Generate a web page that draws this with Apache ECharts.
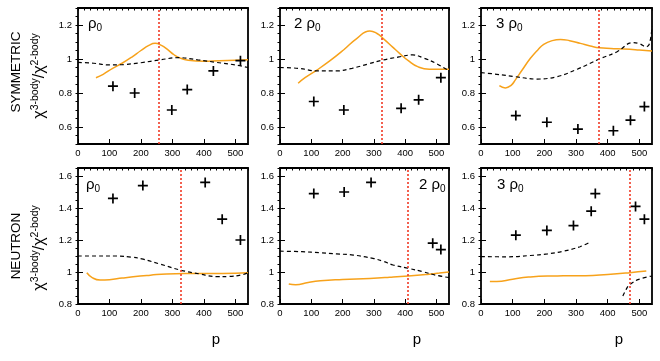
<!DOCTYPE html>
<html>
<head>
<meta charset="utf-8">
<script src="https://cdn.jsdelivr.net/npm/echarts@6.0.0/dist/echarts.min.js"></script>
<style>
  html, body { margin: 0; padding: 0; background: #fff; }
  #chart { width: 660px; height: 361px; }
</style>
</head>
<body>
<div id="chart"></div>
<script>
// tick labels
var pTicks = [0, 100, 200, 300, 400, 500];
var symTicks = [0.6, 0.8, 1, 1.2];
var neuTicks = [0.8, 1, 1.2, 1.4, 1.6];

// panel titles and cut-off momenta (red dotted lines)
var panelTitles = ['ρ0', '2 ρ0', '3 ρ0', 'ρ0', '2 ρ0', '3 ρ0'];
var cutLines = [258, 325, 373, 326, 409, 469];

// SYMMETRIC, rho0
var symRho1Orange = [[57,0.89],[80,0.91],[110,0.945],[140,0.975],[170,1.01],[200,1.05],[225,1.08],[245,1.092],[265,1.08],[285,1.055],[305,1.025],[325,1.005],[350,0.993],[400,0.987],[450,0.99],[500,0.992],[540,0.995]];
var symRho1Dashed = [[0,0.98],[50,0.975],[100,0.965],[150,0.968],[200,0.978],[260,0.995],[320,1.008],[380,0.995],[440,0.98],[500,0.965],[540,0.95]];
var symRho1Cross = [[111,0.84],[180,0.80],[298,0.70],[347,0.82],[430,0.93],[516,0.99]];

// SYMMETRIC, 2 rho0
var symRho2Orange = [[58,0.857],[80,0.89],[118,0.935],[160,0.99],[203,1.053],[245,1.12],[287,1.165],[310,1.15],[330,1.12],[360,1.07],[382,1.033],[410,0.99],[440,0.955],[477,0.94],[540,0.94]];
var symRho2Dashed = [[0,0.95],[60,0.945],[118,0.93],[182,0.93],[230,0.945],[280,0.97],[326,0.993],[380,1.012],[424,1.024],[460,1.005],[498,0.975],[540,0.93]];
var symRho2Cross = [[108,0.75],[204,0.70],[387,0.71],[443,0.76],[514,0.89]];

// SYMMETRIC, 3 rho0
var symRho3Orange = [[58,0.843],[77,0.83],[95,0.845],[108,0.876],[130,0.935],[156,1.004],[180,1.055],[198,1.086],[225,1.108],[251,1.115],[280,1.108],[314,1.092],[345,1.077],[374,1.066],[410,1.062],[451,1.059],[500,1.053],[540,1.047]];
var symRho3Dashed = [[0,0.92],[50,0.91],[108,0.896],[177,0.882],[240,0.896],[304,0.94],[374,1.0],[430,1.043],[478,1.096],[500,1.09],[522,1.072],[532,1.09],[540,1.19]];
var symRho3Cross = [[110,0.667],[208,0.628],[306,0.588],[418,0.578],[472,0.64],[516,0.72]];

// NEUTRON, rho0
var neuRho1Orange = [[28,0.995],[45,0.965],[70,0.95],[100,0.952],[140,0.962],[175,0.97],[230,0.98],[281,0.988],[340,0.99],[400,0.99],[460,0.99],[540,0.995]];
var neuRho1Dashed = [[0,1.1],[60,1.1],[122,1.1],[170,1.093],[207,1.08],[260,1.05],[325,1.012],[386,0.988],[439,0.971],[480,0.972],[520,0.982],[540,0.995]];
var neuRho1Cross = [[111,1.46],[206,1.54],[404,1.56],[458,1.33],[516,1.20]];

// NEUTRON, 2 rho0
var neuRho2Orange = [[28,0.925],[50,0.92],[90,0.935],[129,0.945],[200,0.953],[287,0.96],[350,0.967],[410,0.975],[470,0.985],[509,0.993],[540,1.0]];
var neuRho2Dashed = [[0,1.13],[70,1.127],[129,1.12],[180,1.113],[234,1.106],[297,1.085],[330,1.067],[361,1.044],[410,1.023],[456,1.002],[498,0.98],[540,0.965]];
var neuRho2Cross = [[108,1.49],[205,1.50],[291,1.56],[488,1.18],[514,1.14]];

// NEUTRON, 3 rho0 (dashed curve has two branches)
var neuRho3Orange = [[28,0.94],[50,0.94],[100,0.955],[150,0.968],[210,0.975],[260,0.976],[330,0.977],[400,0.985],[470,0.996],[522,1.006]];
var neuRho3DashedA = [[0,1.096],[80,1.095],[155,1.103],[210,1.113],[260,1.13],[313,1.158],[347,1.19]];
var neuRho3DashedB = [[448,0.85],[458,0.89],[469,0.92],[498,0.954],[540,0.975]];
var neuRho3Cross = [[110,1.23],[208,1.26],[292,1.29],[348,1.38],[361,1.49],[488,1.41],[516,1.33]];

var orangeSets = [symRho1Orange, symRho2Orange, symRho3Orange, neuRho1Orange, neuRho2Orange, neuRho3Orange];
var dashedSets = [[symRho1Dashed], [symRho2Dashed], [symRho3Dashed], [neuRho1Dashed], [neuRho2Dashed], [neuRho3DashedA, neuRho3DashedB]];
var crossSets = [symRho1Cross, symRho2Cross, symRho3Cross, neuRho1Cross, neuRho2Cross, neuRho3Cross];

var chart = echarts.init(document.getElementById('chart'));

var lefts = [78, 280, 481];
var widths = [170, 169, 171];
var tops = [8, 168];
var FONT = 'Liberation Sans, Arial, sans-serif';
var plusPath = 'path://M-0.85,-5H0.85V-0.85H5V0.85H0.85V5H-0.85V0.85H-5V-0.85H-0.85Z';

var grids = [], xAxes = [], yAxes = [], series = [], graphics = [];

for (var i = 0; i < 6; i++) {
    var col = i % 3, row = Math.floor(i / 3);
    var sym = row === 0;
    grids.push({
        left: lefts[col], top: tops[row], width: widths[col], height: 136,
        show: true, borderColor: '#000', borderWidth: 1.8, backgroundColor: 'transparent'
    });
    // main x axis
    xAxes.push({
        type: 'value', gridIndex: i, min: 0, max: 540,
        axisLine: { show: false }, splitLine: { show: false },
        axisTick: { inside: true, length: 5, customValues: pTicks, lineStyle: { color: '#000', width: 1 } },
        axisLabel: { customValues: pTicks, color: '#000', fontSize: 9.5, margin: 4, fontFamily: FONT }
    });
    // minor x ticks
    xAxes.push({
        type: 'value', gridIndex: i, min: 0, max: 540, interval: 20,
        axisLine: { show: false }, splitLine: { show: false }, axisLabel: { show: false },
        axisTick: { inside: true, length: 2.5, lineStyle: { color: '#000', width: 1 } }
    });
    var yt = sym ? symTicks : neuTicks;
    var ymin = sym ? 0.5 : 0.8, ymax = sym ? 1.3 : 1.65;
    yAxes.push({
        type: 'value', gridIndex: i, min: ymin, max: ymax,
        axisLine: { show: false }, splitLine: { show: false },
        axisTick: { inside: true, length: 5, customValues: yt, lineStyle: { color: '#000', width: 1 } },
        axisLabel: { customValues: yt, color: '#000', fontSize: 9.5, margin: 6, fontFamily: FONT }
    });
    yAxes.push({
        type: 'value', gridIndex: i, min: ymin, max: ymax, interval: 0.05,
        axisLine: { show: false }, splitLine: { show: false }, axisLabel: { show: false },
        axisTick: { inside: true, length: 2.5, lineStyle: { color: '#000', width: 1 } }
    });

    series.push({
        type: 'line', xAxisIndex: 2 * i, yAxisIndex: 2 * i, data: orangeSets[i],
        smooth: 0.5, showSymbol: false, silent: true, z: 3,
        lineStyle: { color: '#f7a21b', width: 1.5 },
        markLine: {
            silent: true, symbol: ['none', 'none'], label: { show: false },
            lineStyle: { color: '#f03a25', width: 1.6, type: [2, 2] },
            data: [{ xAxis: cutLines[i] }]
        }
    });
    dashedSets[i].forEach(function (d) {
        series.push({
            type: 'line', xAxisIndex: 2 * i, yAxisIndex: 2 * i, data: d,
            smooth: 0.4, showSymbol: false, silent: true, z: 3,
            lineStyle: { color: '#000', width: 1.2, type: [4, 3] }
        });
    });
    series.push({
        type: 'scatter', xAxisIndex: 2 * i, yAxisIndex: 2 * i, data: crossSets[i],
        symbol: plusPath, symbolSize: 10, silent: true, z: 4,
        itemStyle: { color: '#000', opacity: 1 }
    });
}

// panel titles
var titlePos = [[88, 24], [294, 24], [496, 24], [86, 185], [419, 185], [497, 185]];
titlePos.forEach(function (p, i) {
    var parts = panelTitles[i].split('ρ');
    graphics.push({
        type: 'text', x: p[0], y: p[1],
        style: {
            text: '{r|' + parts[0] + 'ρ}{s|0}',
            align: 'left', verticalAlign: 'middle',
            rich: {
                r: { fontSize: 15, fontFamily: FONT, fill: '#000', lineHeight: 18 },
                s: { fontSize: 10, fontFamily: FONT, fill: '#000', lineHeight: 10, verticalAlign: 'bottom' }
            }
        }
    });
});

// x axis titles
[216, 417, 619].forEach(function (x) {
    graphics.push({
        type: 'text', x: x, y: 340,
        style: { text: 'p', fontSize: 15, fontFamily: FONT, fill: '#000', align: 'center', verticalAlign: 'middle' }
    });
});

// left labels
[['SYMMETRIC', 72, 76], ['NEUTRON', 246, 248]].forEach(function (l) {
    graphics.push({
        type: 'text', x: 16, y: l[1], rotation: Math.PI / 2,
        style: { text: l[0], fontSize: 13.5, fontFamily: FONT, fill: '#000', align: 'center', verticalAlign: 'middle' }
    });
    graphics.push({
        type: 'text', x: 40, y: l[2], rotation: Math.PI / 2,
        style: {
            text: '{c|χ}{s|3-body}{c|/χ}{s|2-body}',
            align: 'center', verticalAlign: 'middle',
            rich: {
                c: { fontSize: 16, fontFamily: FONT, fill: '#000', lineHeight: 21 },
                s: { fontSize: 10.5, fontFamily: FONT, fill: '#000', lineHeight: 11, verticalAlign: 'top' }
            }
        }
    });
});

chart.setOption({
    animation: false,
    backgroundColor: '#fff',
    grid: grids,
    xAxis: xAxes,
    yAxis: yAxes,
    series: series,
    graphic: graphics
});
</script>
</body>
</html>
